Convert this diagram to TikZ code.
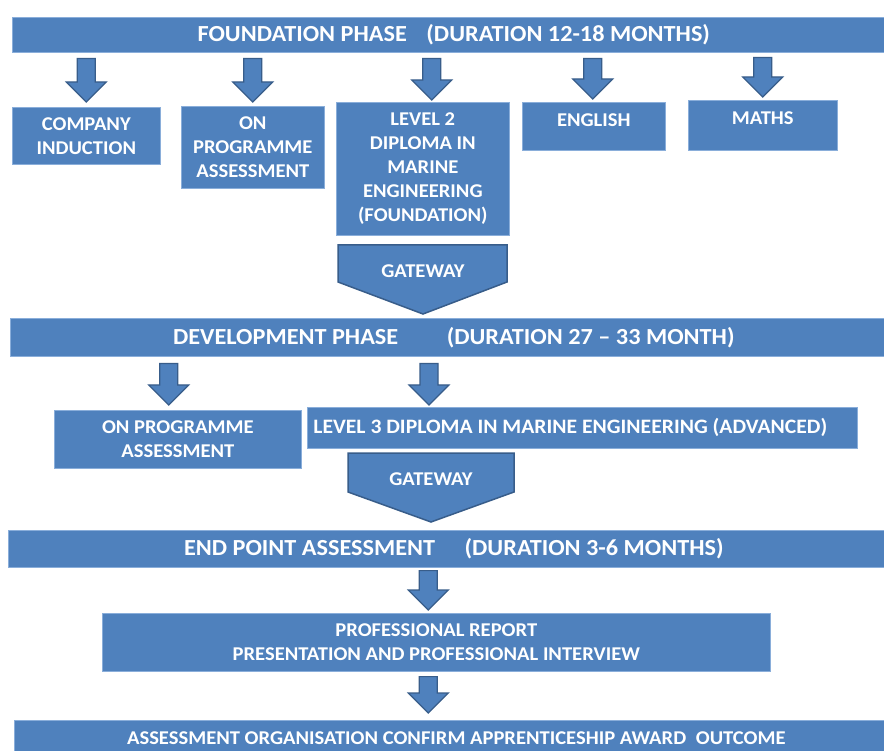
\documentclass[tikz,border=0pt]{standalone}
\usepackage{fontspec}
\setmainfont{Carlito}[FakeStretch=1.055]
\usetikzlibrary{calc}
\definecolor{blu}{HTML}{4F81BD}
\definecolor{dkblu}{HTML}{385D8A}
\definecolor{edgeblu}{HTML}{8AAEDA}
\tikzset{
  bar/.style={fill=blu, draw=edgeblu, line width=0.6pt, text=white, anchor=north west, inner sep=0pt,
    font=\bfseries\fontsize{23}{27}\selectfont},
  box/.style={fill=blu, draw=edgeblu, line width=0.6pt, text=white, anchor=north west, inner sep=0pt,
    align=center, font=\bfseries\fontsize{19.5}{24}\selectfont},
  blk/.style={fill=blu, draw=dkblu, line width=1.2pt, line join=miter},
  gate/.style={fill=blu, draw=dkblu, line width=1.5pt, line join=miter},
  gatetext/.style={text=white, inner sep=0pt, font=\bfseries\fontsize{19.5}{24}\selectfont}
}
\newcommand{\blockarr}[2]{%
  \draw[blk] let \p1=#1, \p2=#2 in
    ({\x1-9pt},\y1) -- ({\x1+9pt},\y1) -- ({\x1+9pt},{\y2+20pt}) -- ({\x1+20pt},{\y2+20pt})
    -- (\x1,\y2) -- ({\x1-20pt},{\y2+20pt}) -- ({\x1-9pt},{\y2+20pt}) -- cycle;}
\begin{document}
\begin{tikzpicture}[x=1pt,y=-1pt]
\useasboundingbox[fill=white] (0,0) rectangle (884,751);

% Foundation phase
\node[bar, minimum width=883pt, minimum height=35pt] (fp) at (12,17)
  {FOUNDATION PHASE\hspace{14pt} (DURATION 12-18 MONTHS)};
\node[box, minimum width=148pt, minimum height=57pt] (ci) at (12,107) {COMPANY\\INDUCTION};
\node[box, minimum width=143pt, minimum height=82pt] (opa) at (181,106) {ON\\PROGRAMME\\ASSESSMENT};
\node[box, minimum width=173pt, minimum height=133pt] (l2) at (336,102)
  {LEVEL 2\\DIPLOMA IN\\MARINE\\ENGINEERING\\(FOUNDATION)};
\node[box, minimum width=143pt, minimum height=48pt, text depth=12pt] (eng) at (522,102) {ENGLISH};
\node[box, minimum width=149pt, minimum height=50pt, text depth=14pt] (mat) at (688,100) {MATHS};

\blockarr{($(fp.south -| ci.north)+(0,6)$)}{($(ci.north)+(0,-5)$)}
\blockarr{($(fp.south -| opa.north)+(0,6)$)}{($(opa.north)+(0,-4)$)}
\blockarr{($(fp.south -| l2.north)+(9,6)$)}{($(l2.north)+(9,-2)$)}
\blockarr{($(fp.south -| eng.north)+(-1,6)$)}{($(eng.north)+(-1,-3)$)}
\blockarr{($(fp.south -| mat.north)+(0,5)$)}{($(mat.north)+(0,-3)$)}

% Gateway 1
\draw[gate] (338,245) -- (507,245) -- (507,282) -- (423,314) -- (338,282) -- cycle;
\node[gatetext] (gw1) at (423,271) {GATEWAY};

% Development phase
\node[bar, minimum width=887pt, minimum height=38pt] (dp) at (10,318)
  {DEVELOPMENT PHASE\hspace{43pt} (DURATION 27 – 33 MONTH)};
\node[box, minimum width=247pt, minimum height=58pt] (opa2) at (54,410) {ON PROGRAMME\\ASSESSMENT};
\node[box, minimum width=550pt, minimum height=41pt, font=\bfseries\fontsize{20.5}{24}\selectfont] (l3) at (307,407)
  {LEVEL 3 DIPLOMA IN MARINE ENGINEERING (ADVANCED)\hspace*{24pt}};

% Gateway 2
\draw[gate] (348,453) -- (514,453) -- (514,492) -- (431,522) -- (348,492) -- cycle;
\node[gatetext] (gw2) at (431,479) {GATEWAY};

\blockarr{($(dp.south -| opa2.north)+(-9,7)$)}{($(opa2.north)+(-9,-5)$)}
\blockarr{($(dp.south -| gw2.north)+(-2,7)$)}{($(l3.north -| gw2.north)+(-2,-2)$)}

% End point assessment
\node[bar, minimum width=891pt, minimum height=37pt] (ep) at (8,530)
  {END POINT ASSESSMENT\hspace{24pt} (DURATION 3-6 MONTHS)};
\node[box, minimum width=668pt, minimum height=58pt] (prof) at (102,613)
  {PROFESSIONAL REPORT\\PRESENTATION AND PROFESSIONAL INTERVIEW};
\node[box, minimum width=884pt, minimum height=45pt, text depth=9pt] (out) at (14,720)
  {ASSESSMENT ORGANISATION CONFIRM APPRENTICESHIP AWARD\hspace{5pt} OUTCOME};

\blockarr{($(ep.south -| prof.north)+(-8,3)$)}{($(prof.north)+(-8,-3)$)}
\blockarr{($(prof.south)+(-8,5)$)}{($(out.north -| prof.north)+(-8,-7)$)}
\end{tikzpicture}
\end{document}
